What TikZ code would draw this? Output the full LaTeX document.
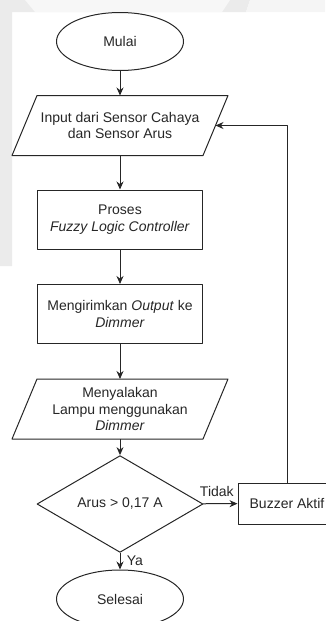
\documentclass[tikz,border=0pt]{standalone}
\usepackage{fontspec}
\setmainfont{Liberation Sans}
\usetikzlibrary{shapes.geometric,arrows.meta}
\begin{document}
\begin{tikzpicture}[x=1pt, y=-1pt, font=\fontsize{14}{16.5}\selectfont, line join=round, >={Stealth[length=8pt,width=7pt]},
 term/.style={ellipse, draw, minimum width=127pt, minimum height=58pt, inner sep=0pt},
 io/.style={rectangle, minimum width=190pt, minimum height=59pt, align=center, inner sep=0pt},
 proc/.style={rectangle, draw, minimum width=165pt, minimum height=59pt, align=center},
 cond/.style={diamond, draw, minimum width=166pt, minimum height=82pt, inner sep=0pt},
 every path/.style={line width=1pt, color=black!85}]
 \useasboundingbox (0,0) rectangle (325,621);
 % faint watermark behind the chart
 \fill[black!8] (0,0) -- (250,0) -- (246,12) -- (12,12) -- (12,266) -- (0,266) -- cycle;
 \fill[black!3] (25,0) -- (230,0) -- (222,12) -- (35,12) -- cycle;
 \fill[black!4] (250,0) -- (325,0) -- (325,12) -- (246,12) -- cycle;
 \node[term] (mulai) at (120,41.5) {Mulai};
 \node[io] (input) at (120,125.5) {Input dari Sensor Cahaya\\dan Sensor Arus};
 \node[proc] (proses) at (120,219.5) {Proses\\\textit{Fuzzy Logic Controller}};
 \node[proc] (kirim) at (120,314) {Mengirimkan \textit{Output} ke\\\textit{Dimmer}};
 \node[io] (nyala) at (120,409) {Menyalakan\\Lampu menggunakan\\\textit{Dimmer}};
 \node[cond] (cek) at (120,504) {Arus > 0,17 A};
 \node[proc, minimum width=98pt, minimum height=41pt] (buzzer) at (287,503.5) {Buzzer Aktif};
 \node[term] (selesai) at (120,599) {Selesai};
 % slanted outline of the input/output boxes
 \foreach \n in {input, nyala}
  \draw ([xshift=12.5pt]\n.north west) -- ([xshift=12.5pt]\n.north east) -- ([xshift=-12.5pt]\n.south east) -- ([xshift=-12.5pt]\n.south west) -- cycle;
 \foreach \a/\b in {mulai/input, input/proses, proses/kirim, kirim/nyala, nyala/cek}
  \draw[->] (\a) -- (\b);
 \draw[->] (cek) -- node[above, pos=.4, yshift=3pt]{Tidak} (buzzer);
 \draw[->] (cek) -- node[right, pos=.5, xshift=3pt]{Ya} (selesai);
 \draw[->] (buzzer) |- (input);
\end{tikzpicture}
\end{document}
